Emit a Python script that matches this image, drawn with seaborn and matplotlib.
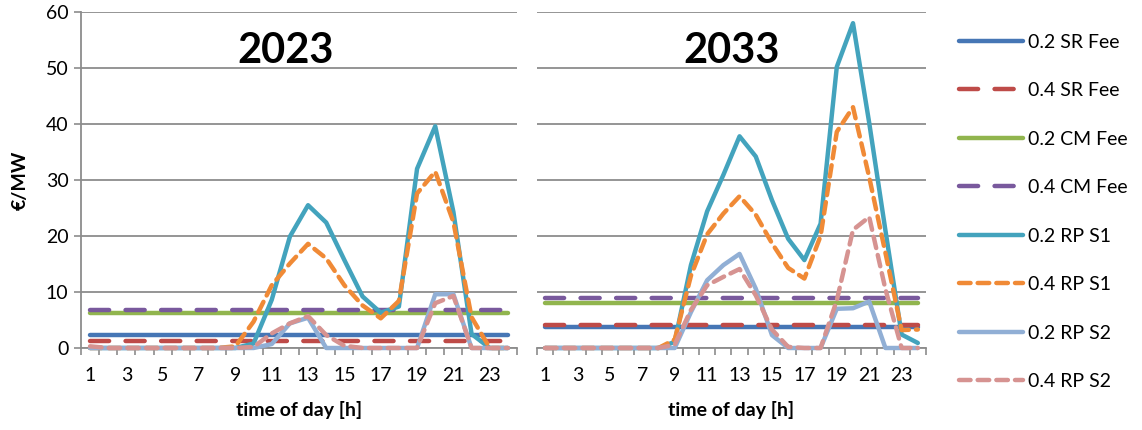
import numpy as np
import pandas as pd
import seaborn as sns
import matplotlib.pyplot as plt
from matplotlib.lines import Line2D
from matplotlib.ticker import MultipleLocator

hours = list(range(1, 25))
series_names = ['0.2 SR Fee', '0.4 SR Fee', '0.2 CM Fee', '0.4 CM Fee',
                '0.2 RP S1', '0.4 RP S1', '0.2 RP S2', '0.4 RP S2']

# 2023
sr02_2023 = [2.3] * 24
sr04_2023 = [1.3] * 24
cm02_2023 = [6.3] * 24
cm04_2023 = [6.7] * 24
rp1_02_2023 = [0, 0, 0, 0, 0, 0, 0, 0, 0, 0.8, 8.6, 19.9, 25.5, 22.4, 15.7, 9.2,
               6.3, 7.4, 32.0, 39.6, 24.3, 2.5, 0, 0]
rp1_04_2023 = [0, 0, 0, 0, 0, 0, 0, 0, 0.3, 4.7, 11.2, 15.1, 18.6, 16.0, 11.2, 7.6,
               5.3, 8.4, 27.6, 31.5, 22.5, 5.5, 0, 0]
rp2_02_2023 = [0, 0, 0, 0, 0, 0, 0, 0, 0, 0, 0.7, 4.4, 5.4, 0, 0, 0,
               0, 0, 0, 9.6, 9.6, 0, 0, 0]
rp2_04_2023 = [0.3, 0, 0, 0, 0, 0, 0, 0, 0, 0.2, 2.6, 4.4, 5.7, 2.3, 0.4, 0,
               0, 0, 0, 8.0, 9.3, 0, 0, 0]

# 2033
sr02_2033 = [3.7] * 24
sr04_2033 = [4.1] * 24
cm02_2033 = [8.0] * 24
cm04_2033 = [8.9] * 24
rp1_02_2033 = [0, 0, 0, 0, 0, 0, 0, 0, 1.1, 14.8, 24.4, 30.9, 37.8, 34.2, 26.4, 19.5,
               15.7, 22.2, 50.2, 58.0, 40.2, 21.0, 2.4, 0.9]
rp1_04_2033 = [0, 0, 0, 0, 0, 0, 0, 0, 1.5, 12.9, 20.3, 24.0, 27.1, 23.8, 18.7, 14.3,
               12.4, 20.0, 38.6, 43.0, 30.5, 17.0, 3.2, 3.3]
rp2_02_2033 = [0, 0, 0, 0, 0, 0, 0, 0, 0, 6.4, 12.1, 14.8, 16.8, 10.6, 2.3, 0,
               0, 0, 7.0, 7.1, 8.3, 0, 0, 0]
rp2_04_2033 = [0, 0, 0, 0, 0, 0, 0, 0, 0.6, 6.8, 11.2, 12.7, 14.1, 9.4, 3.3, 0.2,
               0, 0, 8.5, 21.1, 23.4, 10.5, 0, 0]

years = ['2023', '2033']
data_by_year = {
    '2023': [sr02_2023, sr04_2023, cm02_2023, cm04_2023,
             rp1_02_2023, rp1_04_2023, rp2_02_2023, rp2_04_2023],
    '2033': [sr02_2033, sr04_2033, cm02_2033, cm04_2033,
             rp1_02_2033, rp1_04_2033, rp2_02_2033, rp2_04_2033],
}

colors = ['#4676B5', '#BE4B48', '#91B54E', '#79599D',
          '#43A3BD', '#F08A36', '#91AFD5', '#D69391']
long_dash = (4.3, 3.7)
short_dash = (2.6, 1.6)
dash_list = ['', long_dash, '', long_dash, '', short_dash, '', short_dash]
palette = dict(zip(series_names, colors))
dashes = dict(zip(series_names, dash_list))

rows = []
for yr in years:
    for name, vals in zip(series_names, data_by_year[yr]):
        for h, v in zip(hours, vals):
            rows.append({'year': yr, 'series': name, 'hour': h, 'value': v})
df = pd.DataFrame(rows)

sns.set_theme(style='white')
plt.rcParams['font.family'] = ['Lato', 'DejaVu Sans']
plt.rcParams['text.color'] = 'black'
plt.rcParams['axes.labelcolor'] = 'black'
plt.rcParams['xtick.labelcolor'] = 'black'
plt.rcParams['ytick.labelcolor'] = 'black'

fig = plt.figure(figsize=(11.42, 4.30), dpi=100)
ax1 = fig.add_axes([0.0709, 0.1907, 0.3818, 0.7814])
ax2 = fig.add_axes([0.4702, 0.1907, 0.3406, 0.7814])
grid_col = '#8C8C8C'

for ax, yr in zip([ax1, ax2], years):
    sub = df[df['year'] == yr]
    sns.lineplot(data=sub, x='hour', y='value', hue='series', style='series',
                 hue_order=series_names, style_order=series_names,
                 palette=palette, dashes=dashes, linewidth=3.2,
                 legend=False, ax=ax)
    for ln in ax.get_lines():
        ln.set_clip_on(False)
        ln.set_dash_capstyle('round')
        ln.set_solid_capstyle('round')
    ax.set_xlim(0.5, 24.5)
    ax.set_ylim(0, 60)
    ax.yaxis.set_major_locator(MultipleLocator(10))
    ax.set_xticks(range(1, 25, 2))
    ax.set_xticks(np.arange(0.5, 25, 1), minor=True)
    ax.tick_params(axis='x', which='major', length=0, pad=14, labelsize=14)
    ax.tick_params(axis='x', which='minor', length=5, width=1.2, color=grid_col,
                   direction='out', bottom=True)
    ax.grid(axis='y', color=grid_col, linewidth=1.3)
    ax.set_axisbelow(True)
    for s in ['top', 'right']:
        ax.spines[s].set_visible(False)
    ax.spines['bottom'].set_color(grid_col)
    ax.spines['bottom'].set_linewidth(1.3)
    ax.spines['bottom'].set_zorder(0.5)
    ax.set_xlabel('time of day [h]', fontsize=14, fontweight='bold', labelpad=12)
    ax.set_ylabel('')

ax1.text(0.47, 0.885, '2023', transform=ax1.transAxes, ha='center', va='center',
         fontsize=30, fontweight='bold')
ax2.text(0.50, 0.885, '2033', transform=ax2.transAxes, ha='center', va='center',
         fontsize=30, fontweight='bold')

ax1.spines['left'].set_color(grid_col)
ax1.spines['left'].set_linewidth(1.3)
ax1.tick_params(axis='y', which='major', length=5, width=1.2, color=grid_col,
                direction='out', left=True, labelsize=14, pad=4)
ax1.set_ylabel('€/MW', fontsize=14, fontweight='bold', labelpad=12)

ax2.spines['left'].set_visible(False)
ax2.tick_params(axis='y', left=False, labelleft=False)

handles = []
for c, d in zip(colors, dash_list):
    if d == '':
        h = Line2D([], [], color=c, linewidth=3.2, solid_capstyle='round')
    else:
        h = Line2D([], [], color=c, linewidth=3.2, dashes=d, dash_capstyle='round')
    handles.append(h)
fig.legend(handles, series_names, loc='upper left', bbox_to_anchor=(0.833, 0.94),
           frameon=False, fontsize=14, handlelength=3.3, handletextpad=0.25,
           labelspacing=1.62, borderaxespad=0)

fig.savefig('out.png', dpi=100)
